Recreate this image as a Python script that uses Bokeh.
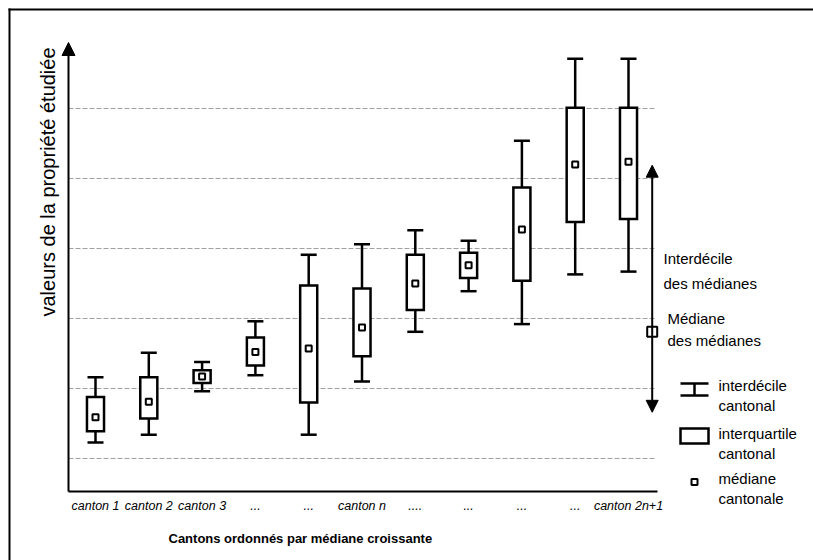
import math
from bokeh.plotting import figure
from bokeh.models import Range1d, Arrow, NormalHead, Label
from bokeh.embed import file_html
from bokeh.resources import INLINE
from bokeh.core.properties import value

# ---------------- data ----------------
positions = [1, 2, 3, 4, 5, 6, 7, 8, 9, 10, 11]
tick_labels = ["canton 1", "canton 2", "canton 3", "...", "...", "canton n",
               "....", "...", "...", "...", "canton 2n+1"]
whisk_hi = [21.6, 25.1, 23.8, 29.6, 39.1, 40.6, 42.6, 41.1, 55.4, 67.1, 67.1]
q3 = [18.8, 21.6, 22.6, 27.3, 34.7, 34.3, 39.1, 39.4, 48.7, 60.1, 60.1]
medians = [15.9, 18.1, 21.7, 25.2, 25.7, 28.7, 35.0, 37.6, 42.7, 52.0, 52.4]
q1 = [13.9, 15.7, 20.8, 23.3, 18.0, 24.6, 31.2, 35.8, 35.4, 43.8, 44.2]
whisk_lo = [12.3, 13.4, 19.6, 21.9, 13.4, 21.0, 28.1, 33.9, 29.2, 36.3, 36.7]
grid_levels = [10, 20, 30, 40, 50, 60]
median_of_medians = 28.1
d1_of_medians = 16.6
d9_of_medians = 51.9

# ---------------- layout ----------------
W, H = 813, 560
FONT = "Liberation Sans"
PX_PER_X = 53.3      # pixels per category step
PX_PER_Y = 7.0       # pixels per value unit
X0_PAGE, Y0_PAGE = 95.0, 458.0   # page position of category 1 / value 10
ORIGIN_X, ORIGIN_Y = 0, 0         # page position of the canvas corner


def px(page_x):
    return 1 + (page_x - X0_PAGE) / PX_PER_X


def py(page_y):
    return 10 + (Y0_PAGE - page_y) / PX_PER_Y


X_MIN, X_MAX = px(ORIGIN_X), px(ORIGIN_X + W)
Y_MIN, Y_MAX = py(ORIGIN_Y + H), py(ORIGIN_Y)

p = figure(width=W, height=H, output_backend="svg", toolbar_location=None,
           x_range=Range1d(X_MIN, X_MAX), y_range=Range1d(Y_MIN, Y_MAX),
           x_axis_location=None, y_axis_location=None, title=None,
           min_border=0)
p.outline_line_color = None
p.grid.visible = False
p.background_fill_color = "white"
p.border_fill_color = "white"

# outer frame of the figure (top and left edges)
p.segment(x0=[px(8), px(9)], y0=[py(9), py(8)], x1=[px(813), px(9)], y1=[py(9), py(560)],
          line_color="black", line_width=2)

AXIS_X = px(68)
BASE_Y = py(491)

# grid lines (dashed, light)
p.segment(x0=AXIS_X, y0=grid_levels, x1=px(655), y1=grid_levels,
          line_color="#a0a0a0", line_width=1, line_dash="5 2")

# axes
p.segment(x0=AXIS_X, y0=BASE_Y, x1=px(657), y1=BASE_Y, line_color="black", line_width=2)
p.add_layout(Arrow(end=NormalHead(size=13, fill_color="black", line_color="black", line_width=1),
                   x_start=AXIS_X, y_start=BASE_Y, x_end=AXIS_X, y_end=py(42),
                   line_color="black", line_width=2))

# category labels and axis titles
p.text(x=positions, y=py(505), text=tick_labels, text_font=value(FONT),
       text_font_style="italic", text_font_size="12.5px", text_align="center",
       text_baseline="middle", text_color="black")
p.add_layout(Label(x=px(168), y=py(538), text="Cantons ordonnés par médiane croissante",
                   text_font=FONT, text_font_size="13px", text_font_style="bold",
                   text_align="left", text_baseline="middle", text_color="black"))
p.add_layout(Label(x=px(47), y=py(316), text="valeurs de la propriété étudiée",
                   angle=math.pi / 2, text_font=FONT, text_font_size="20px",
                   text_align="left", text_baseline="middle", text_color="black"))

# whiskers
p.segment(x0=positions, y0=q3, x1=positions, y1=whisk_hi, line_color="black", line_width=2.5)
p.segment(x0=positions, y0=whisk_lo, x1=positions, y1=q1, line_color="black", line_width=2.5)
p.scatter(x=positions, y=whisk_hi, marker="dash", size=16, line_color="black", line_width=2.5)
p.scatter(x=positions, y=whisk_lo, marker="dash", size=16, line_color="black", line_width=2.5)
# boxes
p.vbar(x=positions, bottom=q1, top=q3, width=0.32, fill_color="white",
       line_color="black", line_width=2.5, line_join="miter")
# medians
p.scatter(x=positions, y=medians, marker="square", size=6, fill_color="white",
          line_color="black", line_width=2)

# interdecile of the medians and median of the medians
SUMMARY_X = px(651.7)
p.add_layout(Arrow(start=NormalHead(size=12, fill_color="black", line_color="black", line_width=1),
                   end=NormalHead(size=12, fill_color="black", line_color="black", line_width=1),
                   x_start=SUMMARY_X, y_start=d1_of_medians, x_end=SUMMARY_X, y_end=d9_of_medians,
                   line_color="black", line_width=2))
p.scatter(x=[SUMMARY_X], y=[median_of_medians], marker="square", size=10,
          fill_color="white", line_color="black", line_width=2)


def lab(page_x, page_y, t):
    p.add_layout(Label(x=px(page_x), y=py(page_y), text=t, text_font=FONT,
                       text_font_size="15px", text_baseline="middle",
                       text_align="left", text_color="black"))


lab(663, 258, "Interdécile")
lab(663, 283, "des médianes")
lab(667, 318, "Médiane")
lab(667, 340, "des médianes")

# legend symbols
LX = px(694)
p.scatter(x=[LX, LX], y=[py(383), py(395)], marker="dash", size=28,
          line_color="black", line_width=2.5)
p.segment(x0=[LX], y0=[py(395)], x1=[LX], y1=[py(383)], line_color="black", line_width=2.5)
p.quad(left=[px(680)], right=[px(708)], bottom=[py(443)], top=[py(428)],
       fill_color="white", line_color="black", line_width=2.5, line_join="miter")
p.scatter(x=[LX], y=[py(481.5)], marker="square", size=6, fill_color="white",
          line_color="black", line_width=2)

lab(718, 385, "interdécile")
lab(718, 405, "cantonal")
lab(718, 433, "interquartile")
lab(718, 453, "cantonal")
lab(718, 478, "médiane")
lab(718, 498, "cantonale")

open("out.html", "w").write(file_html(p, INLINE))
